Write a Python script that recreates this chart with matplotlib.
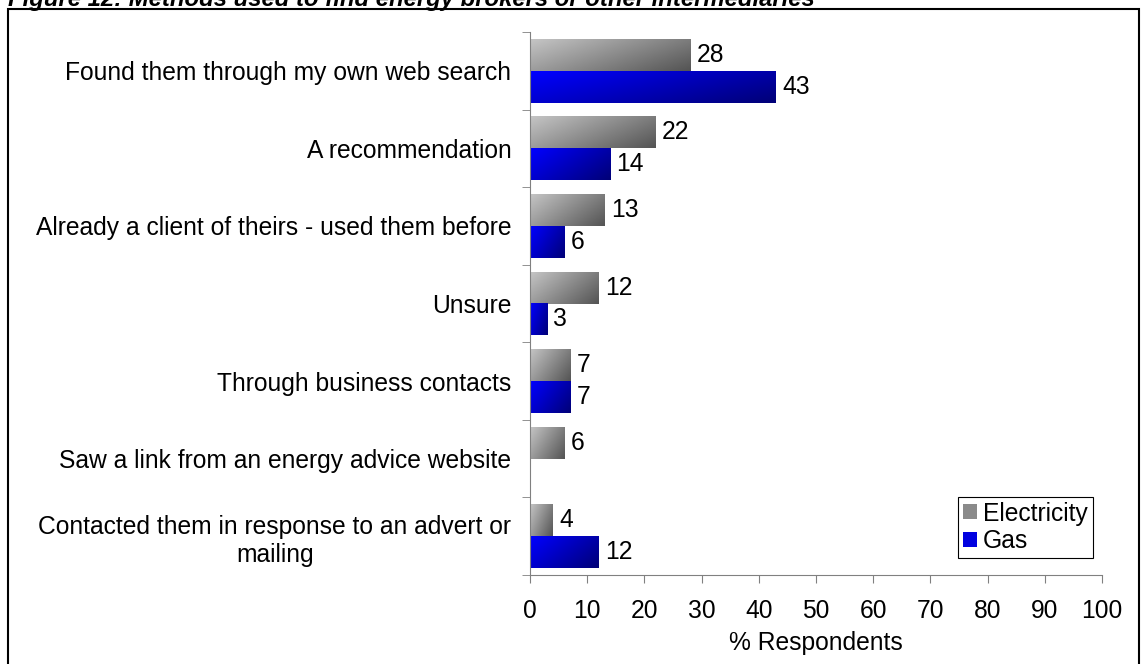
import matplotlib
matplotlib.use("Agg")
import matplotlib.pyplot as plt
import numpy as np
from matplotlib.patches import Rectangle, Patch
from matplotlib.colors import LinearSegmentedColormap

plt.rcParams['font.family'] = ['Liberation Sans', 'DejaVu Sans']

categories = [
    "Found them through my own web search",
    "A recommendation",
    "Already a client of theirs - used them before",
    "Unsure",
    "Through business contacts",
    "Saw a link from an energy advice website",
    "Contacted them in response to an advert or\nmailing",
]
electricity = [28, 22, 13, 12, 7, 6, 4]
gas = [43, 14, 6, 3, 7, None, 12]
xticks = list(range(0, 101, 10))

FS = 17.7

grey_cmap = LinearSegmentedColormap.from_list("grey", ["#c4c4c4", "#555555"])
blue_cmap = LinearSegmentedColormap.from_list("blue", ["#0000ff", "#000078"])


def gradient_bar(ax, x0, y0, w, h, cmap):
    # diagonal shading: light top-left, dark bottom-right
    u = np.linspace(0, 1, 64)
    v = np.linspace(0, 1, 16)
    U, V = np.meshgrid(u, v)
    grad = 0.65 * U + 0.35 * V
    ax.imshow(grad, cmap=cmap, vmin=0, vmax=1, aspect='auto',
              extent=(x0, x0 + w, y0 + h, y0), interpolation='bilinear', zorder=2)


fig = plt.figure(figsize=(11.43, 6.64), dpi=100)
ax = fig.add_axes([0.4637, 0.134, 0.5004, 0.8178])

n = len(categories)
bh = 0.41
for i in range(n):
    e = electricity[i]
    g = gas[i]
    gradient_bar(ax, 0, i - bh, e, bh, grey_cmap)
    ax.text(e + 1.1, i - bh / 2, str(e), va='center', ha='left', fontsize=FS)
    if g is not None:
        gradient_bar(ax, 0, i, g, bh, blue_cmap)
        ax.text(g + 1.1, i + bh / 2, str(g), va='center', ha='left', fontsize=FS)

ax.set_xlim(0, 100)
ax.set_ylim(n - 0.5, -0.5)
ax.set_xticks(xticks)
ax.set_xticklabels([str(t) for t in xticks], fontsize=FS)
ax.set_xlabel("% Respondents", fontsize=FS, labelpad=6)

ax.set_yticks(np.arange(n))
ax.set_yticklabels(categories, fontsize=FS, multialignment='center')
ax.set_yticks(np.arange(-0.5, n, 1), minor=True)
ax.tick_params(axis='y', which='major', length=0, pad=13.5)
ax.tick_params(axis='y', which='minor', length=6, color='#808080', direction='out')
ax.tick_params(axis='x', length=6, color='#808080', direction='out', pad=11)

for side in ['top', 'right']:
    ax.spines[side].set_visible(False)
for side in ['left', 'bottom']:
    ax.spines[side].set_color('#808080')
ax.set_facecolor('none')

handles = [Patch(facecolor='#8a8a8a', edgecolor='none', label='Electricity'),
           Patch(facecolor='#0000e0', edgecolor='none', label='Gas')]
leg = ax.legend(handles=handles, loc='lower right', bbox_to_anchor=(0.984, 0.031),
                fontsize=FS, fancybox=False, edgecolor='black', framealpha=1,
                handlelength=0.55, handleheight=0.55, handletextpad=0.25,
                borderpad=0.2, labelspacing=0.15, borderaxespad=0)
leg.get_frame().set_linewidth(0.8)

# outer frame and clipped figure heading
fig.patches.append(Rectangle((8 / 1143, -0.01), 1131 / 1143, 1 - 9 / 664 + 0.01,
                             transform=fig.transFigure, fill=False,
                             edgecolor='black', linewidth=1.5))
fig.text(8 / 1143, 1 - 6 / 664,
         "Figure 12: Methods used to find energy brokers or other intermediaries",
         fontsize=17.2, fontweight='bold', fontstyle='italic', va='baseline', ha='left')

fig.savefig("out.png", dpi=100)
